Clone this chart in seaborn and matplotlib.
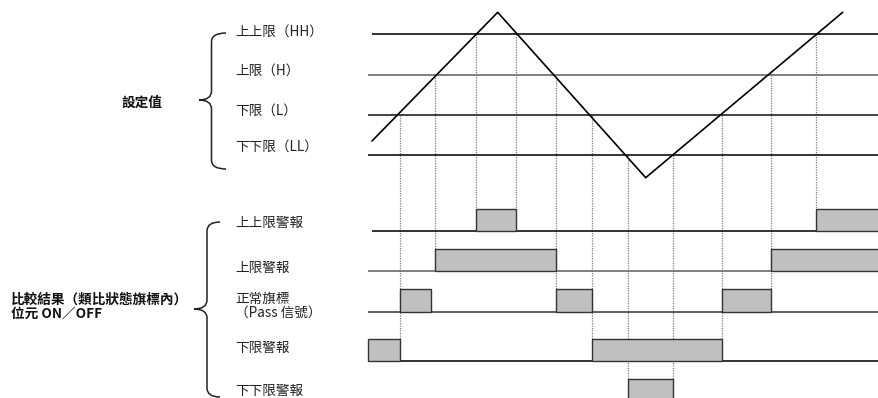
import numpy as np
import pandas as pd
import matplotlib.pyplot as plt
import seaborn as sns
from matplotlib.path import Path
from matplotlib.patches import PathPatch

# ---------- data (pixel-like units: x = time, y = down) ----------
wave_t = [372, 497.7, 645.7, 842.7]
wave_y = [141, 12.3, 177.7, 12.3]

level_names = ["上上限（HH）", "上限（H）", "下限（L）", "下下限（LL）"]
level_label_y = [32, 71, 111, 147]
level_y = [34.3, 75, 115, 155.3]
level_start = [372, 368, 368, 368]
level_color = ["#111111", "#6a6a6a", "#222222", "#111111"]

# threshold crossings of the wave: (time, index of level)
cross_t = [399.7, 435.3, 475.7, 516, 556.3, 592.3, 627.7, 672.7, 722, 771, 816]
cross_lvl = [2, 1, 0, 0, 1, 2, 3, 3, 2, 1, 0]

row_names = ["上上限警報", "上限警報", "正常旗標\n（Pass 信號）", "下限警報", "下下限警報"]
row_label_y = [223, 268, 306, 347.5, 390.5]
row_base = [231.3, 271.3, 312, 361, 401]
row_top = [209, 249.3, 289.3, 339, 379]
row_start = [372, 368, 368, 368, 368]
row_color = ["#111111", "#6a6a6a", "#444444", "#111111", "#111111"]
row_on = [
    [(475.7, 516), (816, 879)],
    [(435.3, 556.3), (771, 879)],
    [(399.7, 431), (556.3, 592.3), (722, 771)],
    [(368, 399.7), (592.3, 722)],
    [(627.7, 672.7)],
]

sns.set_theme(style="white")
plt.rcParams['font.family'] = ['Noto Sans CJK TC', 'DejaVu Sans']

fig = plt.figure(figsize=(8.79, 3.98), dpi=100)
ax = fig.add_axes([0, 0, 1, 1])
ax.set_xlim(0, 879)
ax.set_ylim(398, 0)
ax.axis('off')

# threshold lines
for y, x0, c in zip(level_y, level_start, level_color):
    ax.hlines(y, x0, 879, color=c, lw=1.2, zorder=2)

# the analog value
wave = pd.DataFrame({"t": wave_t, "v": wave_y})
sns.lineplot(data=wave, x="t", y="v", sort=False, estimator=None,
             color="black", lw=1.2, ax=ax, zorder=4)

# row baselines and ON pulses
for i in range(len(row_names)):
    ax.hlines(row_base[i], row_start[i], 879, color=row_color[i], lw=1.2, zorder=2)
    starts = [a for a, b in row_on[i]]
    widths = [b - a for a, b in row_on[i]]
    ax.bar(starts, [row_base[i] - row_top[i]] * len(starts), width=widths,
           bottom=row_top[i], align='edge', color="#c0c0c0",
           edgecolor="#333333", linewidth=1.0, zorder=3)

# dotted guide lines from each crossing down to the lowest pulse edge
for t, lv in zip(cross_t, cross_lvl):
    low = level_y[lv]
    for i, ons in enumerate(row_on):
        for a, b in ons:
            if abs(a - t) < 1 or abs(b - t) < 1:
                low = max(low, row_top[i])
    ax.vlines(t, level_y[lv], low, color="#7a7a7a", lw=0.9,
              linestyle=(0, (1, 1)), zorder=1)


def brace(x_end, x_mid, x_tip, y_top, y_tip, y_bot, r=9):
    verts = [(x_end, y_top), (x_mid, y_top), (x_mid, y_top + r),
             (x_mid, y_tip - r), (x_mid, y_tip), (x_tip, y_tip),
             (x_mid, y_tip), (x_mid, y_tip + r),
             (x_mid, y_bot - r), (x_mid, y_bot), (x_end, y_bot)]
    codes = [Path.MOVETO, Path.CURVE3, Path.CURVE3,
             Path.LINETO, Path.CURVE3, Path.CURVE3,
             Path.CURVE3, Path.CURVE3,
             Path.LINETO, Path.CURVE3, Path.CURVE3]
    ax.add_patch(PathPatch(Path(verts, codes), fill=False, lw=1.1,
                           edgecolor="#222222"))


brace(226, 211.5, 199, 33, 100, 169)
brace(220, 207, 194, 222, 309, 397)

# labels
fs = 9.8
ax.text(121, 103, "設定值", fontsize=fs, fontweight='bold', va='center', color="#111111")
for name, y in zip(level_names, level_label_y):
    ax.text(235, y, name, fontsize=fs, va='center', color="#222222")
for name, y in zip(row_names, row_label_y):
    ax.text(235, y, name, fontsize=fs, va='center', color="#222222", linespacing=1.0)
ax.text(11, 306.5, "比較結果（類比狀態旗標內）\n位元 ON／OFF", fontsize=fs,
        fontweight='bold', va='center', color="#111111", linespacing=1.0)

plt.savefig("out.png", dpi=100)
plt.close()
